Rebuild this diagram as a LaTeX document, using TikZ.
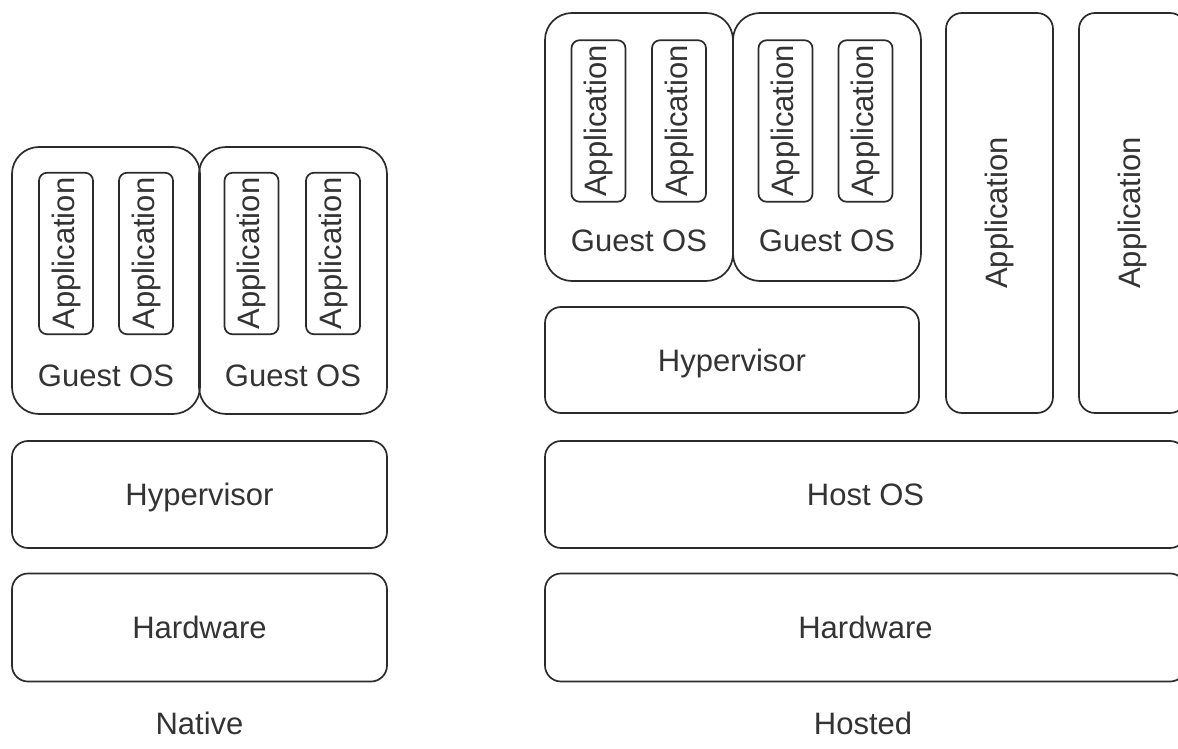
\documentclass[tikz,border=0pt]{standalone}
\usepackage{fontspec}
\setmainfont{Liberation Sans}
\definecolor{linec}{HTML}{2B2B2B}
\definecolor{txtc}{HTML}{333333}
\newcommand{\labfont}{\fontsize{31}{36}\selectfont}
\begin{document}
\begin{tikzpicture}[x=1pt,y=-1pt,
  box/.style={draw=linec, line width=1.7pt, inner sep=0pt, text=txtc, font=\labfont},
  layer/.style={box, rounded corners=16pt, text height=22pt, text depth=0pt},
  guest/.style={box, rounded corners=27pt, minimum width=188pt, minimum height=267pt},
  app/.style={box, rotate=90, rounded corners=8pt, minimum width=161.5pt, minimum height=54pt},
  tallapp/.style={box, rotate=90, rounded corners=16pt, minimum width=400pt, minimum height=107pt},
  lbl/.style={inner sep=0pt, text=txtc, font=\labfont, text height=22pt, text depth=0pt}
]
\path[use as bounding box] (0,0) rectangle (1178,749);
\clip (0,0) rectangle (1178,749);

% ---------- Native (type 1) stack ----------
\node[guest] (ng1) at (106,280.5) {};
\node[guest] (ng2) at (293,280.5) {};
\node[app] (na1) at (66,253.5) {Application};
\node[app] (na2) at (146,253.5) {Application};
\node[app] (na3) at (251.5,253.5) {Application};
\node[app] (na4) at (333,253.5) {Application};
\node[lbl] (ngl1) at (106,375.5) {Guest OS};
\node[lbl] (ngl2) at (293,375.5) {Guest OS};
\node[layer, minimum width=375pt, minimum height=107pt] (nhyp) at (199.5,494.5) {Hypervisor};
\node[layer, minimum width=375pt, minimum height=108pt] (nhw) at (199.5,627.5) {Hardware};
\node[lbl] (ncap) at (199.5,723) {Native};

% ---------- Hosted (type 2) stack ----------
\node[guest, minimum height=268pt] (hg1) at (639,147) {};
\node[guest, minimum height=268pt] (hg2) at (827,147) {};
\node[app] (ha1) at (598.5,121) {Application};
\node[app] (ha2) at (679,121) {Application};
\node[app] (ha3) at (785.5,121) {Application};
\node[app] (ha4) at (865.5,121) {Application};
\node[lbl] (hgl1) at (639,240.5) {Guest OS};
\node[lbl] (hgl2) at (827,240.5) {Guest OS};
\node[layer, minimum width=374pt, minimum height=106pt] (hhyp) at (732,360) {Hypervisor};
\node[tallapp] (ht1) at (999.5,213) {Application};
\node[tallapp] (ht2) at (1132.5,213) {Application};
\node[layer, minimum width=641pt, minimum height=107pt] (hos) at (865.5,494.5) {Host OS};
\node[layer, minimum width=641pt, minimum height=108pt] (hhw) at (865.5,627.5) {Hardware};
\node[lbl] (hcap) at (863,723) {Hosted};
\end{tikzpicture}
\end{document}
